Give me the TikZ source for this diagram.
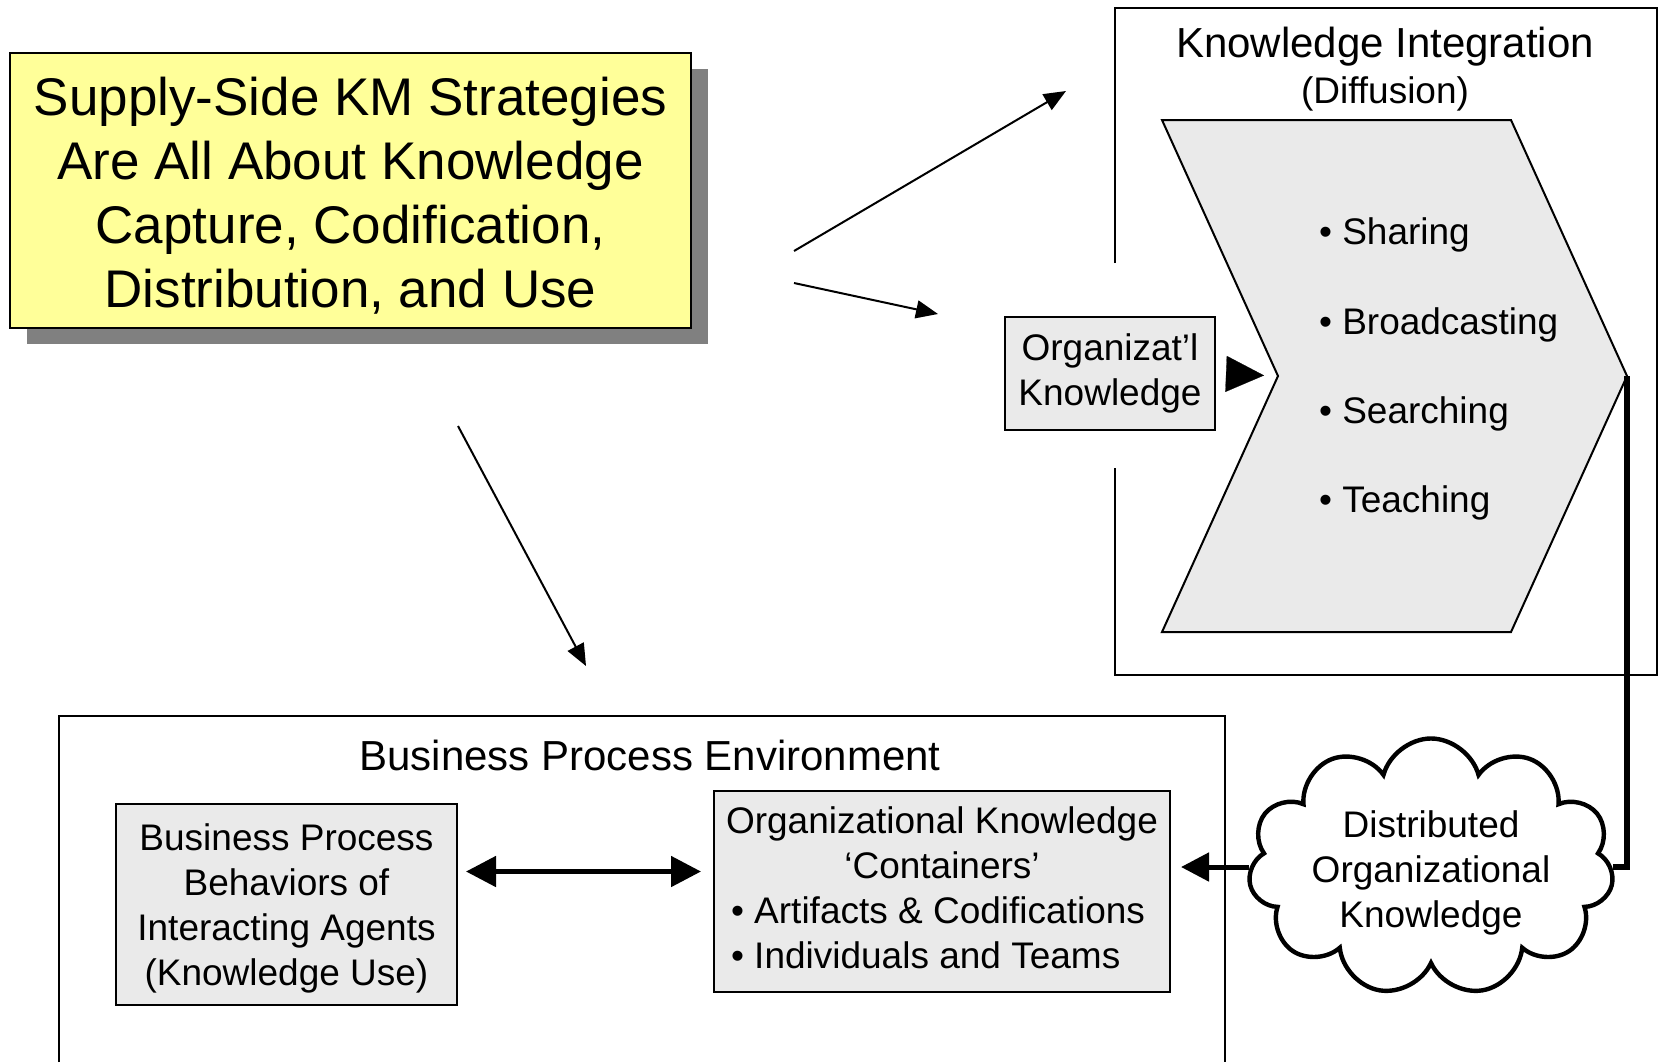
\documentclass[tikz,border=0pt]{standalone}
\usepackage{fontspec}
\setmainfont{Liberation Sans}
\usetikzlibrary{positioning,arrows.meta,shapes.symbols,shadows}

\definecolor{notepaper}{HTML}{FFFF99}
\definecolor{panelgray}{HTML}{EAEAEA}
\definecolor{shadowgray}{HTML}{808080}

\newcommand{\bodyfont}{\fontsize{18.5}{22.5}\selectfont}
\newcommand{\headfont}{\fontsize{21}{25}\selectfont}

\begin{document}
\begin{tikzpicture}[
  x=0.5pt, y=-0.5pt,
  every node/.style={font=\bodyfont},
  frame/.style={line width=1pt},
  box/.style={draw, line width=1pt, fill=panelgray, align=center, inner sep=0pt},
  thinarrow/.style={-{Triangle[length=11pt,width=9pt]}, line width=1pt},
  fatarrow/.style={{Triangle[length=15pt,width=15pt]}-{Triangle[length=15pt,width=15pt]}, line width=2.5pt}
]
\useasboundingbox (0,0) rectangle (1660,1062);

% Strategy note
\node[draw, line width=1pt, fill=notepaper, align=center,
  drop shadow={shadow xshift=8.5pt, shadow yshift=-8pt, fill=shadowgray, opacity=1},
  minimum width=340.5pt, minimum height=137.5pt,
  font=\fontsize{26.5}{32}\selectfont] (supply) at (350.5,190)
  {\rule{0pt}{24.6pt}Supply-Side KM Strategies\\Are All About Knowledge\\Capture, Codification,\\Distribution, and Use};

% Knowledge integration panel
\draw[frame] (1115,263) -- (1115,8) -- (1657,8) -- (1657,675) -- (1115,675) -- (1115,468);
\node[font=\headfont] (kint) at (1385,46.5) {Knowledge Integration};
\node (diff) at (1385,93.5) {(Diffusion)};

\coordinate (notch) at (1278,376);
\coordinate (tip) at (1627,376);
\draw[line width=1pt, fill=panelgray] (1162,120) -- (1511,120) -- (tip) -- (1511,632) -- (1162,632) -- (notch) -- cycle;
\foreach \word/\yy in {Sharing/235, Broadcasting/325, Searching/414, Teaching/503}
  \node[anchor=west] (\word) at (1312,\yy) {\textbullet\ \word};

\node[box, minimum width=105pt, minimum height=56.5pt] (orgk) at (1110,373.5) {Organizat’l\\Knowledge};

% Business process panel
\draw[frame] (59,1062) -- (59,716) -- (1225,716) -- (1225,1062);
\node[font=\headfont] (bpe) at (650,755) {Business Process Environment};

\node[box, minimum width=170.5pt, minimum height=100.5pt] (agents) at (286.5,904.5)
  {\rule{0pt}{17pt}Business Process\\Behaviors of\\Interacting Agents\\(Knowledge Use)};
\node[box, minimum width=228pt, minimum height=100.5pt] (containers) at (942,891.5)
  {\begin{tabular}{@{}l@{}}
   \multicolumn{1}{@{}c@{}}{Organizational Knowledge}\\
   \multicolumn{1}{@{}c@{}}{‘Containers’}\\
   \hspace{2.5pt}\textbullet\ Artifacts \& Codifications\\
   \hspace{2.5pt}\textbullet\ Individuals and Teams
   \end{tabular}};

\node[cloud, draw, line width=2.2pt, fill=white, cloud puffs=11, cloud ignores aspect,
  minimum width=180pt, minimum height=123pt, align=center, inner sep=0pt] (distk) at (1431,867)
  {\rule{0pt}{19pt}Distributed\\Organizational\\Knowledge};

% Arrows
\coordinate (fromA) at (794,251);
\coordinate (toA) at (1066,91);
\coordinate (fromB) at (794,283);
\coordinate (toB) at (938,314);
\coordinate (fromC) at (458,426);
\coordinate (toC) at (586,666);
\draw[thinarrow] (fromA) -- (toA);
\draw[thinarrow] (fromB) -- (toB);
\draw[thinarrow] (fromC) -- (toC);

\draw[-{Triangle[length=19pt,width=18pt]}, line width=0.1pt, shorten <=5.5pt, shorten >=7pt] (orgk.east) -- (notch);
\draw[fatarrow, shorten <=4pt, shorten >=6pt] ([yshift=16.5pt]agents.east) -- ([yshift=16.5pt]agents.east -| containers.west);
\draw[line width=3pt] (tip) |- (distk.east);
\draw[-{Triangle[length=14pt,width=14pt]}, line width=2.5pt, shorten >=5pt] (distk.west) -- (distk.west -| containers.east);

\end{tikzpicture}
\end{document}
